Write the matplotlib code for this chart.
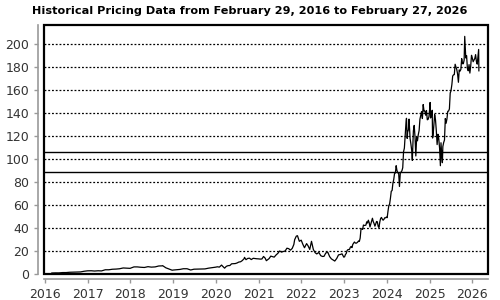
import matplotlib
matplotlib.use("Agg")
import matplotlib.pyplot as plt
import matplotlib.dates as mdates
import pandas as pd

title = "Historical Pricing Data from February 29, 2016 to February 27, 2026"

# closing prices
dates_16_19 = [
    "2016-02-29", "2016-03-31", "2016-04-29", "2016-05-31", "2016-06-30", "2016-07-29",
    "2016-08-31", "2016-09-30", "2016-10-31", "2016-11-30", "2016-12-30",
    "2017-01-31", "2017-02-28", "2017-03-31", "2017-04-28", "2017-05-31", "2017-06-30",
    "2017-07-31", "2017-08-31", "2017-09-29", "2017-10-31", "2017-11-30", "2017-12-29",
    "2018-01-31", "2018-02-28", "2018-03-29", "2018-04-30", "2018-05-31", "2018-06-29",
    "2018-07-31", "2018-08-31", "2018-09-28", "2018-10-03", "2018-10-31", "2018-11-30",
    "2018-12-24", "2018-12-31",
    "2019-01-31", "2019-02-28", "2019-03-29", "2019-04-30", "2019-05-31", "2019-06-28",
    "2019-07-31", "2019-08-30", "2019-09-30", "2019-10-31", "2019-11-29", "2019-12-31",
]
prices_16_19 = [
    0.78, 0.89, 0.87, 1.16, 1.17, 1.42,
    1.53, 1.71, 1.72, 2.30, 2.67,
    2.73, 2.50, 2.72, 2.59, 3.60, 3.60,
    4.06, 4.20, 4.47, 5.17, 5.00, 4.84,
    6.10, 6.10, 5.80, 5.60, 6.30, 5.90,
    6.10, 6.90, 7.00, 7.20, 5.30, 4.10,
    3.20, 3.34,
    3.60, 3.90, 4.50, 4.50, 3.40, 4.10,
    4.20, 4.20, 4.35, 5.00, 5.40, 5.88,
]

dates_20_22 = [
    "2020-01-15", "2020-01-31", "2020-02-19", "2020-02-28", "2020-03-16", "2020-03-31",
    "2020-04-15", "2020-04-30", "2020-05-15", "2020-05-29", "2020-06-15", "2020-06-30",
    "2020-07-15", "2020-07-31", "2020-08-14", "2020-08-31", "2020-09-02", "2020-09-15",
    "2020-09-30", "2020-10-15", "2020-10-30", "2020-11-16", "2020-11-30", "2020-12-15",
    "2020-12-31",
    "2021-01-15", "2021-01-29", "2021-02-12", "2021-02-26", "2021-03-08", "2021-03-31",
    "2021-04-15", "2021-04-30", "2021-05-14", "2021-05-28", "2021-06-15", "2021-06-30",
    "2021-07-15", "2021-07-30", "2021-08-16", "2021-08-31", "2021-09-15", "2021-09-30",
    "2021-10-15", "2021-10-29", "2021-11-05", "2021-11-19", "2021-11-29", "2021-12-15",
    "2021-12-31",
    "2022-01-14", "2022-01-28", "2022-02-15", "2022-02-28", "2022-03-14", "2022-03-29",
    "2022-04-14", "2022-04-29", "2022-05-13", "2022-05-31", "2022-06-16", "2022-06-30",
    "2022-07-14", "2022-07-29", "2022-08-15", "2022-08-31", "2022-09-15", "2022-09-30",
    "2022-10-14", "2022-10-31", "2022-11-15", "2022-11-30", "2022-12-15", "2022-12-30",
]
prices_20_22 = [
    6.2, 5.9, 7.7, 6.7, 5.0, 6.6,
    7.2, 7.3, 8.8, 8.9, 9.0, 9.5,
    10.3, 10.6, 11.6, 13.4, 14.4, 12.4,
    13.5, 13.7, 12.5, 13.6, 13.4, 13.2,
    13.1,
    12.9, 13.0, 15.2, 13.7, 11.5, 13.3,
    15.5, 15.0, 14.6, 16.3, 18.0, 20.0,
    19.0, 19.5, 20.0, 22.4, 22.0, 20.7,
    22.2, 25.6, 29.8, 32.9, 33.3, 28.4,
    29.4,
    25.8, 22.8, 26.4, 24.4, 21.3, 28.4,
    21.2, 18.5, 17.4, 18.7, 15.9, 15.2,
    15.3, 18.2, 18.9, 15.1, 13.1, 12.1,
    11.2, 13.5, 16.6, 16.9, 17.5, 14.6,
]

dates_23_24 = [
    "2023-01-06", "2023-01-13", "2023-01-20", "2023-01-27", "2023-02-03", "2023-02-10",
    "2023-02-17", "2023-02-24", "2023-03-03", "2023-03-10", "2023-03-17", "2023-03-24",
    "2023-03-31", "2023-04-07", "2023-04-14", "2023-04-21", "2023-04-28", "2023-05-05",
    "2023-05-12", "2023-05-19", "2023-05-26", "2023-06-02", "2023-06-09", "2023-06-16",
    "2023-06-23", "2023-06-30", "2023-07-07", "2023-07-14", "2023-07-21", "2023-07-28",
    "2023-08-04", "2023-08-11", "2023-08-18", "2023-08-25", "2023-09-01", "2023-09-08",
    "2023-09-15", "2023-09-22", "2023-09-29", "2023-10-06", "2023-10-13", "2023-10-20",
    "2023-10-27", "2023-11-03", "2023-11-10", "2023-11-17", "2023-11-24", "2023-12-01",
    "2023-12-08", "2023-12-15", "2023-12-22", "2023-12-29",
    "2024-01-05", "2024-01-12", "2024-01-19", "2024-01-26", "2024-02-02", "2024-02-09",
    "2024-02-16", "2024-02-23", "2024-03-01", "2024-03-08", "2024-03-15", "2024-03-22",
    "2024-03-28", "2024-04-05", "2024-04-12", "2024-04-19", "2024-04-26", "2024-05-03",
    "2024-05-10", "2024-05-17", "2024-05-24", "2024-05-31", "2024-06-07", "2024-06-14",
    "2024-06-18", "2024-06-24", "2024-06-28", "2024-07-05", "2024-07-10", "2024-07-19",
    "2024-07-26", "2024-08-02", "2024-08-07", "2024-08-16", "2024-08-23", "2024-08-30",
    "2024-09-06", "2024-09-13", "2024-09-20", "2024-09-27", "2024-10-04", "2024-10-11",
    "2024-10-18", "2024-10-25", "2024-11-01", "2024-11-08", "2024-11-15", "2024-11-22",
    "2024-11-29", "2024-12-06", "2024-12-13", "2024-12-20", "2024-12-27",
]
prices_23_24 = [
    14.9, 16.9, 17.8, 20.3, 21.1, 21.3,
    21.4, 23.2, 23.9, 22.9, 25.7, 26.7,
    27.8, 27.0, 26.7, 27.1, 27.7, 28.7,
    28.3, 31.2, 38.9, 39.3, 38.8, 42.6,
    42.2, 42.3, 42.5, 45.4, 44.3, 46.8,
    44.7, 40.9, 43.3, 46.0, 48.5, 45.5,
    43.9, 41.6, 43.5, 45.7, 45.4, 41.4,
    40.5, 45.3, 48.3, 49.2, 47.8, 46.8,
    47.5, 48.9, 48.8, 49.5,
    49.0, 54.7, 59.5, 61.0, 66.1, 72.1,
    72.6, 79.0, 82.2, 87.5, 87.9, 94.3,
    90.4, 88.0, 88.1, 76.2, 87.7, 88.8,
    89.9, 92.5, 106.5, 109.6, 120.9, 131.9,
    135.6, 118.1, 123.5, 125.8, 134.9, 117.9,
    113.1, 107.3, 98.9, 124.6, 129.4, 119.4,
    102.8, 119.1, 116.0, 121.4, 124.9, 134.8,
    138.0, 141.5, 135.4, 147.6, 141.9, 141.9,
    138.3, 142.4, 134.3, 134.7, 137.0,
]

dates_25_26 = [
    "2025-01-03", "2025-01-06", "2025-01-10", "2025-01-17", "2025-01-24", "2025-01-27",
    "2025-01-31", "2025-02-07", "2025-02-14", "2025-02-21", "2025-02-28", "2025-03-07",
    "2025-03-14", "2025-03-21", "2025-03-28", "2025-04-04", "2025-04-09", "2025-04-17",
    "2025-04-21", "2025-04-25", "2025-05-02", "2025-05-09", "2025-05-16", "2025-05-23",
    "2025-05-30", "2025-06-06", "2025-06-13", "2025-06-20", "2025-06-27", "2025-07-03",
    "2025-07-11", "2025-07-18", "2025-07-25", "2025-08-01", "2025-08-08", "2025-08-15",
    "2025-08-22", "2025-08-29", "2025-09-05", "2025-09-12", "2025-09-19", "2025-09-26",
    "2025-10-03", "2025-10-10", "2025-10-17", "2025-10-24", "2025-10-29", "2025-10-31",
    "2025-11-07", "2025-11-14", "2025-11-21", "2025-11-28", "2025-12-05", "2025-12-12",
    "2025-12-19", "2025-12-26",
    "2026-01-02", "2026-01-09", "2026-01-16", "2026-01-23", "2026-01-30", "2026-02-06",
    "2026-02-13", "2026-02-20", "2026-02-25", "2026-02-27",
]
prices_25_26 = [
    144.5, 149.4, 135.9, 137.7, 142.6, 118.4,
    120.1, 129.8, 138.9, 134.4, 124.9, 112.7,
    121.7, 117.7, 109.7, 94.3, 114.3, 101.5,
    96.9, 111.0, 114.5, 116.7, 135.4, 131.3,
    135.1, 141.7, 141.9, 143.8, 157.7, 159.3,
    164.9, 172.4, 173.5, 173.7, 182.7, 180.5,
    178.0, 174.2, 167.0, 177.8, 176.7, 178.2,
    187.6, 183.2, 183.2, 186.3, 207.0, 202.5,
    188.2, 190.2, 178.9, 177.0, 182.4, 175.0,
    181.0, 190.5,
    188.1, 184.9, 186.2, 187.7, 191.1, 185.0,
    182.8, 189.8, 195.6, 177.0,
]

ref_lines = [106.5, 88.6]

dates = pd.to_datetime(dates_16_19 + dates_20_22 + dates_23_24 + dates_25_26)
prices = prices_16_19 + prices_20_22 + prices_23_24 + prices_25_26

fig = plt.figure(figsize=(5, 3), dpi=100)
ax = fig.add_axes([0.088, 0.087, 0.888, 0.83])

for v in range(20, 201, 20):
    ax.axhline(v, color="black", lw=0.9, linestyle=(0, (1.5, 1.5)), zorder=1)
for v in ref_lines:
    ax.axhline(v, color="black", lw=1.0, zorder=1)

ax.plot(dates, prices, color="black", lw=0.9, zorder=3)

ax.set_ylim(0, 217)
ax.set_xlim(pd.Timestamp("2015-12-24"), pd.Timestamp("2026-05-16"))
ax.set_yticks(range(0, 201, 20))
ax.xaxis.set_major_locator(mdates.YearLocator())
ax.xaxis.set_major_formatter(mdates.DateFormatter("%Y"))

# black box round the plot, gray offset axes with ticks
ax.patch.set_edgecolor("black")
ax.patch.set_linewidth(1.6)
for s in ["top", "right"]:
    ax.spines[s].set_color("black")
    ax.spines[s].set_linewidth(1.3)
for s in ["left", "bottom"]:
    ax.spines[s].set_position(("outward", 4))
    ax.spines[s].set_color("#999999")
    ax.spines[s].set_linewidth(1.2)
ax.tick_params(colors="#999999", labelcolor="#333333", labelsize=9, length=3, width=1)

fig.text(0.5, 0.965, title, ha="center", va="center", fontsize=8.1, fontweight="bold")

fig.savefig("out.png", dpi=100)
